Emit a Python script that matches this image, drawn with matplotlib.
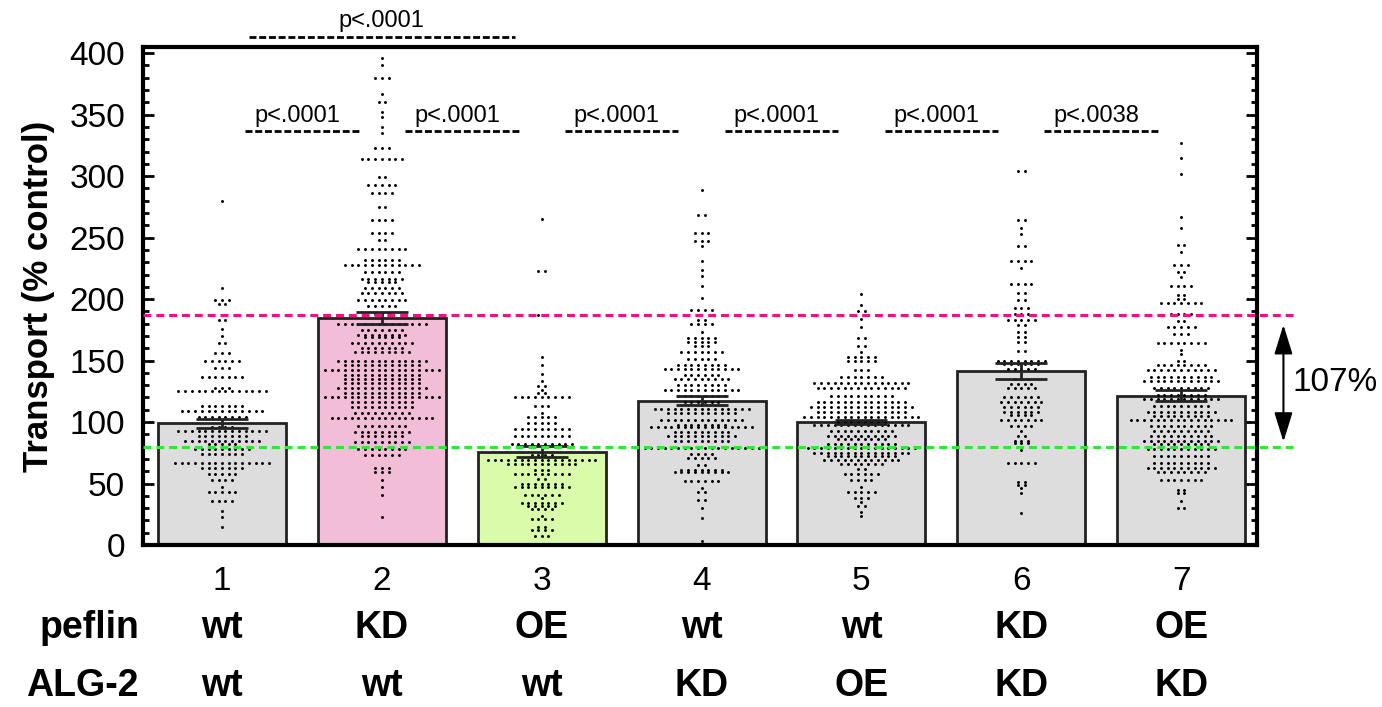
import numpy as np
import matplotlib.pyplot as plt
from matplotlib.transforms import blended_transform_factory

plt.rcParams['font.family'] = ['Liberation Sans', 'DejaVu Sans']

groups = [1, 2, 3, 4, 5, 6, 7]
means = [99, 184.5, 76, 117.5, 100, 141.5, 121.5]
sems = [3.5, 4.7, 4.6, 4.0, 1.5, 6.5, 4.5]
bar_colors = ['#dcdddc', '#f1bdd7', '#d9fbaa', '#dcdddc', '#dcdddc', '#dcdddc', '#dcdddc']
peflin = ['wt', 'KD', 'OE', 'wt', 'wt', 'KD', 'OE']
alg2 = ['wt', 'wt', 'wt', 'KD', 'OE', 'KD', 'KD']

# dot rows: value (% control) of each row and how many dots it has
g1_val = [15, 23, 28, 36, 43, 47, 53, 58, 63, 67, 74, 78, 82, 85, 89, 93, 96, 104, 109, 113,
          125, 128, 137, 144, 150, 156, 164, 170, 176, 183, 196, 199, 209, 280]
g1_n = [1, 1, 1, 4, 5, 1, 4, 5, 7, 15, 7, 9, 5, 12, 8, 14, 4, 8, 13, 7,
        14, 3, 7, 3, 6, 3, 2, 1, 1, 2, 2, 3, 1, 1]

g2_val = [23, 41, 47, 53, 59, 63, 73, 78, 84, 89, 92, 97, 103, 107, 112, 116, 120, 124, 128, 132,
          135, 138, 142, 146, 150, 157, 160, 164, 169, 171, 175, 180, 188, 194, 199, 205, 209, 214,
          216, 222, 228, 232, 241, 248, 254, 264, 275, 286, 293, 299, 314, 323, 335, 340, 348, 352,
          360, 367, 380, 390, 396]
g2_n = [1, 1, 1, 1, 3, 3, 6, 8, 9, 7, 9, 8, 16, 9, 10, 10, 18, 12, 14, 12,
        12, 12, 18, 12, 14, 9, 7, 10, 6, 8, 7, 14, 3, 5, 8, 7, 6, 5,
        7, 6, 12, 6, 8, 2, 4, 4, 2, 4, 5, 2, 7, 3, 1, 1, 1, 1,
        2, 1, 3, 1, 1]

g3_val = [7, 12, 15, 21, 24, 29, 32, 34, 38, 41, 47, 50, 54, 58, 61, 66, 69, 73, 82, 89,
          94, 99, 104, 107, 113, 120, 124, 126, 129, 133, 139, 146, 153, 187, 223, 265]
g3_n = [3, 4, 2, 4, 1, 4, 5, 7, 1, 6, 9, 7, 2, 9, 3, 11, 17, 4, 10, 9,
        9, 5, 5, 1, 3, 9, 2, 1, 2, 1, 1, 1, 1, 2, 2, 1]

g4_val = [3, 22, 30, 37, 43, 46, 52, 59, 61, 65, 71, 74, 79, 85, 89, 92, 96, 98, 102, 107,
          111, 116, 121, 126, 130, 135, 138, 143, 146, 151, 157, 162, 165, 168, 173, 180, 183, 191,
          201, 211, 219, 224, 231, 243, 247, 254, 268, 289]
g4_n = [1, 1, 1, 2, 2, 1, 6, 9, 7, 2, 5, 4, 18, 9, 11, 9, 16, 8, 13, 11,
        15, 6, 8, 12, 8, 9, 6, 12, 8, 5, 7, 3, 5, 5, 1, 4, 2, 4,
        1, 1, 1, 1, 1, 1, 3, 3, 2, 1]

g5_val = [24, 27, 32, 35, 38, 43, 47, 53, 58, 62, 66, 69, 72, 75, 79, 82, 86, 89, 93, 98,
          100, 104, 108, 112, 116, 121, 128, 132, 137, 142, 150, 153, 157, 162, 168, 177, 184, 190,
          195, 204]
g5_n = [1, 1, 2, 1, 3, 5, 1, 4, 6, 2, 7, 12, 11, 15, 17, 11, 8, 11, 10, 15,
        8, 18, 14, 16, 14, 10, 14, 15, 7, 3, 5, 5, 1, 2, 2, 1, 1, 2,
        1, 1]

g6_val = [26, 42, 46, 49, 51, 67, 77, 83, 85, 89, 93, 97, 102, 106, 108, 112, 116, 120, 128, 131,
          135, 143, 147, 150, 158, 165, 169, 173, 179, 183, 188, 193, 199, 205, 212, 225, 231, 243,
          253, 258, 264, 304]
g6_n = [1, 1, 1, 2, 2, 5, 1, 3, 3, 2, 1, 4, 7, 4, 6, 6, 7, 6, 5, 4,
        3, 5, 6, 8, 2, 2, 2, 2, 2, 5, 3, 3, 2, 2, 4, 1, 4, 2,
        1, 1, 2, 2]

g7_val = [30, 36, 42, 45, 53, 59, 63, 67, 72, 78, 82, 85, 89, 93, 97, 102, 105, 108, 113, 119,
          122, 128, 133, 137, 142, 146, 150, 155, 159, 164, 172, 177, 182, 188, 197, 200, 203, 211,
          218, 222, 228, 238, 244, 258, 267, 302, 315, 327]
g7_n = [2, 1, 2, 2, 7, 8, 11, 9, 9, 11, 9, 12, 10, 9, 10, 16, 9, 11, 9, 12,
        8, 9, 12, 10, 11, 8, 2, 1, 1, 8, 3, 5, 2, 4, 7, 2, 2, 4,
        1, 2, 3, 1, 2, 1, 1, 1, 1, 1]

row_vals = [g1_val, g2_val, g3_val, g4_val, g5_val, g6_val, g7_val]
row_ns = [g1_n, g2_n, g3_n, g4_n, g5_n, g6_n, g7_n]

# neighbouring comparisons and the long one (1 vs 3)
pair_labels = ['p<.0001', 'p<.0001', 'p<.0001', 'p<.0001', 'p<.0001', 'p<.0038']
top_label = 'p<.0001'

pink_line = 187
green_line = 80
diff_label = '107%'

fig = plt.figure(figsize=(13.82, 7.07), dpi=100)
ax = fig.add_axes([0.1035, 0.2291, 0.8061, 0.7044])

ax.bar(groups, means, width=0.8, color=bar_colors, edgecolor='#222222', linewidth=2, zorder=1)

# beeswarm-like rows of dots
dx = 0.042
for g, vals, ns in zip(groups, row_vals, row_ns):
    xs, ys = [], []
    for v, n in zip(vals, ns):
        for i in range(n):
            xs.append(g + (i - (n - 1) / 2) * dx)
            ys.append(v)
    ax.scatter(xs, ys, s=4.5, color='black', linewidths=0, zorder=3)

ax.errorbar(groups, means, yerr=sems, fmt='none', ecolor='#222222', elinewidth=2,
            capsize=19, capthick=2, zorder=5)

ax.set_xlim(0.506, 7.475)
ax.set_ylim(0, 405)

x_end = 7.725
ax.plot([0.506, x_end], [pink_line, pink_line], color='#f0137e', lw=2.2,
        ls=(0, (2.6, 1.6)), clip_on=False, zorder=6)
ax.plot([0.506, x_end], [green_line, green_line], color='#33e633', lw=2.2,
        ls=(0, (2.6, 1.6)), clip_on=False, zorder=6)

ax.annotate('', xy=(7.64, 84), xytext=(7.64, 179), annotation_clip=False,
            arrowprops=dict(arrowstyle='<|-|>,head_length=0.9,head_width=0.28',
                            color='black', lw=1.5, mutation_scale=20, shrinkA=0, shrinkB=0))
ax.text(7.695, 132, diff_label, fontsize=24, va='center', ha='left', clip_on=False)

for i, lab in enumerate(pair_labels):
    mid = groups[i] + 0.5
    ax.plot([mid - 0.355, mid + 0.355], [337, 337], color='black', lw=2,
            ls=(0, (2.5, 1.0)), zorder=6)
    ax.text(mid - 0.03, 340, lab, fontsize=17, ha='center', va='bottom')

ax.plot([2 - 0.83, 2 + 0.83], [413, 413], color='black', lw=2, ls=(0, (2.5, 1.0)), clip_on=False)
ax.text(2, 417, top_label, fontsize=17, ha='center', va='bottom', clip_on=False)

for side in ['left', 'right', 'top', 'bottom']:
    ax.spines[side].set_linewidth(3)
ax.set_yticks(range(0, 401, 50))
ax.set_yticks(range(0, 401, 10), minor=True)
ax.tick_params(axis='y', which='both', direction='in', right=True, width=2, labelsize=24, pad=13)
ax.tick_params(axis='y', which='major', length=8)
ax.tick_params(axis='y', which='minor', length=4)
ax.set_xticks(groups)
ax.set_xticklabels([str(g) for g in groups])
ax.tick_params(axis='x', length=0, labelsize=24, pad=15)
ax.set_ylabel('Transport (% control)', fontsize=25, fontweight='bold', labelpad=10)

trans = blended_transform_factory(ax.transData, fig.transFigure)
fig.text(139 / 1382, 1 - 628 / 707, 'peflin', fontsize=27, fontweight='bold', ha='right', va='center')
fig.text(139 / 1382, 1 - 686 / 707, 'ALG-2', fontsize=27, fontweight='bold', ha='right', va='center')
for g, a, b in zip(groups, peflin, alg2):
    ax.text(g, 1 - 628 / 707, a, transform=trans, fontsize=27, fontweight='bold',
            ha='center', va='center', clip_on=False)
    ax.text(g, 1 - 686 / 707, b, transform=trans, fontsize=27, fontweight='bold',
            ha='center', va='center', clip_on=False)

fig.savefig('out.png', dpi=100)
